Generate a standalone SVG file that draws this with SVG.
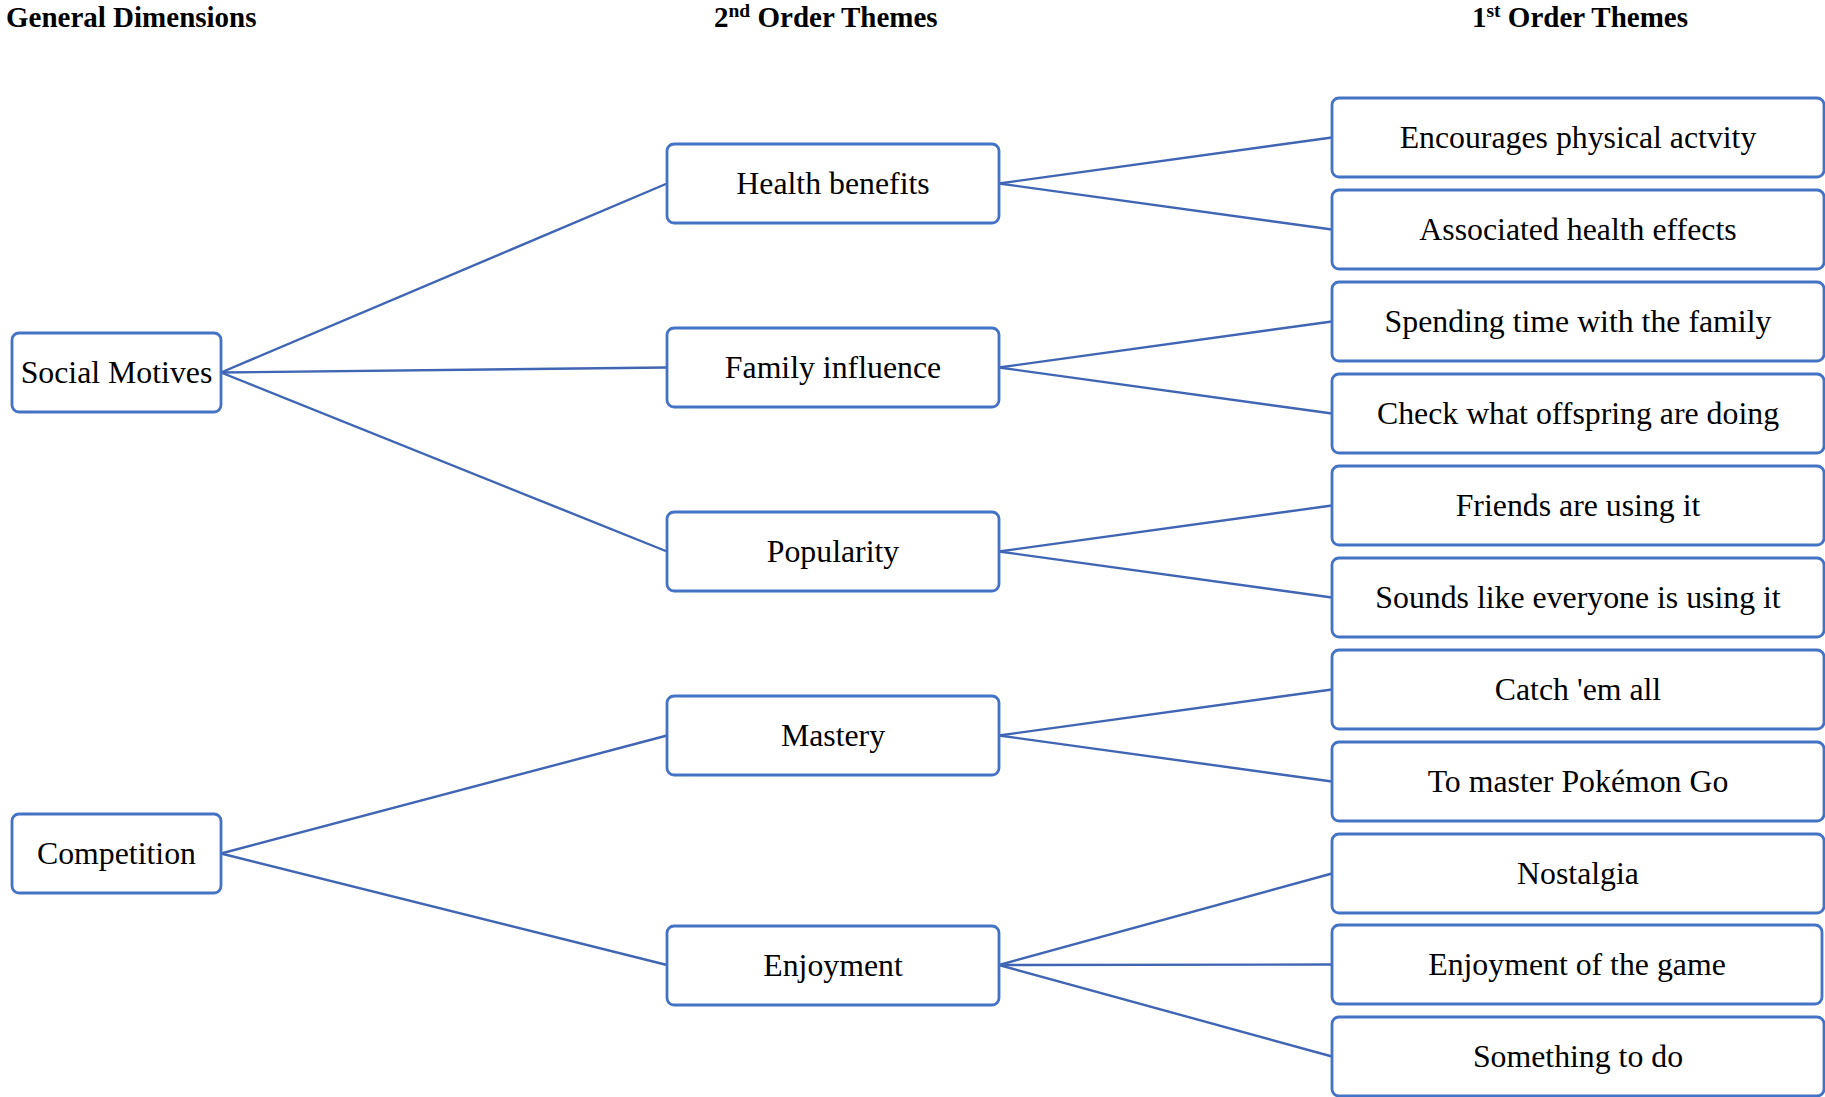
<svg xmlns="http://www.w3.org/2000/svg" width="1825" height="1097" viewBox="0 0 1825 1097">
<style>
.box{fill:#fff;stroke:#4472C4;stroke-width:2.8}
.lbl{font-family:"Liberation Serif","Times New Roman",serif;font-size:31.8px;fill:#000;text-anchor:middle}
.hdr{font-family:"Liberation Serif","Times New Roman",serif;font-size:29px;font-weight:bold;fill:#000}
.sup{font-size:19.5px}
#connectors line{stroke:#3F65B3;stroke-width:2.4}
</style>
<rect width="1825" height="1097" fill="#fff"/>
<g id="headers">
<text class="hdr" x="6" y="27">General Dimensions</text>
<text class="hdr" x="714" y="27">2<tspan class="sup" dy="-10">nd</tspan><tspan dy="10"> Order Themes</tspan></text>
<text class="hdr" x="1472" y="27">1<tspan class="sup" dy="-10">st</tspan><tspan dy="10"> Order Themes</tspan></text>
</g>
<g id="connectors">
<line x1="221" y1="372.5" x2="667" y2="183.5"/>
<line x1="221" y1="372.5" x2="667" y2="367.5"/>
<line x1="221" y1="372.5" x2="667" y2="551.5"/>
<line x1="221" y1="853.5" x2="667" y2="735.5"/>
<line x1="221" y1="853.5" x2="667" y2="965"/>
<line x1="999" y1="183.5" x2="1332" y2="137.5"/>
<line x1="999" y1="183.5" x2="1332" y2="229.5"/>
<line x1="999" y1="367.5" x2="1332" y2="321.5"/>
<line x1="999" y1="367.5" x2="1332" y2="413.5"/>
<line x1="999" y1="551.5" x2="1332" y2="505.5"/>
<line x1="999" y1="551.5" x2="1332" y2="597.5"/>
<line x1="999" y1="735.5" x2="1332" y2="689.5"/>
<line x1="999" y1="735.5" x2="1332" y2="781.5"/>
<line x1="999" y1="965" x2="1332" y2="873.5"/>
<line x1="999" y1="965" x2="1332" y2="964.5"/>
<line x1="999" y1="965" x2="1332" y2="1056.5"/>
</g>
<g id="n-social"><rect class="box" x="12" y="333" width="209" height="79" rx="7"/><text class="lbl" x="116.5" y="383">Social Motives</text></g>
<g id="n-competition"><rect class="box" x="12" y="814" width="209" height="79" rx="7"/><text class="lbl" x="116.5" y="864">Competition</text></g>
<g id="n-health"><rect class="box" x="667" y="144" width="332" height="79" rx="7"/><text class="lbl" x="833" y="194">Health benefits</text></g>
<g id="n-family"><rect class="box" x="667" y="328" width="332" height="79" rx="7"/><text class="lbl" x="833" y="378">Family influence</text></g>
<g id="n-popularity"><rect class="box" x="667" y="512" width="332" height="79" rx="7"/><text class="lbl" x="833" y="562">Popularity</text></g>
<g id="n-mastery"><rect class="box" x="667" y="696" width="332" height="79" rx="7"/><text class="lbl" x="833" y="746">Mastery</text></g>
<g id="n-enjoyment"><rect class="box" x="667" y="926" width="332" height="79" rx="7"/><text class="lbl" x="833" y="976">Enjoyment</text></g>
<g id="n-physical"><rect class="box" x="1332" y="98" width="492" height="79" rx="7"/><text class="lbl" x="1578" y="148">Encourages physical actvity</text></g>
<g id="n-healtheffects"><rect class="box" x="1332" y="190" width="492" height="79" rx="7"/><text class="lbl" x="1578" y="240">Associated health effects</text></g>
<g id="n-familytime"><rect class="box" x="1332" y="282" width="492" height="79" rx="7"/><text class="lbl" x="1578" y="332">Spending time with the family</text></g>
<g id="n-offspring"><rect class="box" x="1332" y="374" width="492" height="79" rx="7"/><text class="lbl" x="1578" y="424">Check what offspring are doing</text></g>
<g id="n-friends"><rect class="box" x="1332" y="466" width="492" height="79" rx="7"/><text class="lbl" x="1578" y="516">Friends are using it</text></g>
<g id="n-everyone"><rect class="box" x="1332" y="558" width="492" height="79" rx="7"/><text class="lbl" x="1578" y="608">Sounds like everyone is using it</text></g>
<g id="n-catch"><rect class="box" x="1332" y="650" width="492" height="79" rx="7"/><text class="lbl" x="1578" y="700">Catch 'em all</text></g>
<g id="n-master"><rect class="box" x="1332" y="742" width="492" height="79" rx="7"/><text class="lbl" x="1578" y="792">To master Pokémon Go</text></g>
<g id="n-nostalgia"><rect class="box" x="1332" y="834" width="492" height="79" rx="7"/><text class="lbl" x="1578" y="884">Nostalgia</text></g>
<g id="n-enjoygame"><rect class="box" x="1332" y="925" width="490" height="79" rx="7"/><text class="lbl" x="1577" y="975">Enjoyment of the game</text></g>
<g id="n-something"><rect class="box" x="1332" y="1017" width="492" height="79" rx="7"/><text class="lbl" x="1578" y="1067">Something to do</text></g>
</svg>
